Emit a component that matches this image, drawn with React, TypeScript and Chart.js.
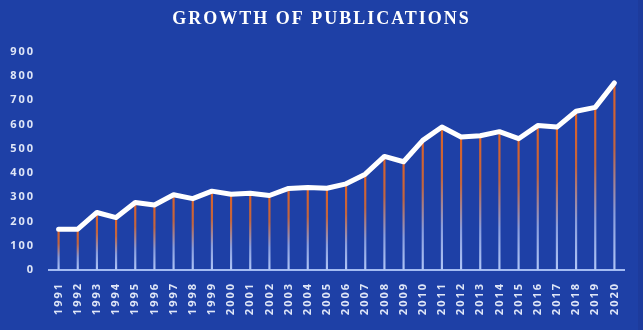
import React, { useEffect, useRef } from "react";
import { Chart, registerables } from "chart.js";

Chart.register(...registerables);

const years: string[] = [
  "1991", "1992", "1993", "1994", "1995", "1996", "1997", "1998", "1999", "2000",
  "2001", "2002", "2003", "2004", "2005", "2006", "2007", "2008", "2009", "2010",
  "2011", "2012", "2013", "2014", "2015", "2016", "2017", "2018", "2019", "2020",
];

const publications: number[] = [
  168, 168, 237, 216, 278, 268, 310, 294, 325, 312,
  316, 307, 336, 340, 337, 355, 395, 468, 446, 534,
  589, 548, 553, 570, 541, 595, 589, 654, 670, 771,
];

const yTicks: number[] = [0, 100, 200, 300, 400, 500, 600, 700, 800, 900];

const BG = "#1e40a6";
const TEXT = "#dfe6f7";

export default function App() {
  const ref = useRef<HTMLCanvasElement | null>(null);

  useEffect(() => {
    if (!ref.current) return;
    const spacing = {
      id: "spacing",
      beforeUpdate(chart: any) {
        chart.ctx.letterSpacing = "2px";
      },
      beforeDraw(chart: any) {
        chart.ctx.letterSpacing = "2px";
      },
    };
    const chart = new Chart(ref.current, {
      type: "bar",
      data: {
        labels: years,
        datasets: [
          {
            type: "line",
            data: publications,
            borderColor: "#ffffff",
            borderWidth: 5,
            pointRadius: 0,
            tension: 0,
            borderJoinStyle: "round",
            borderCapStyle: "round",
            order: 0,
          } as any,
          {
            type: "bar",
            data: publications,
            barThickness: 1.5,
            order: 1,
            backgroundColor: (ctx: any) => {
              const c = ctx.chart;
              if (!c.chartArea || ctx.raw == null) return "#d9632b";
              const ys = c.scales.y;
              const top = ys.getPixelForValue(ctx.raw);
              const bot = ys.getPixelForValue(0);
              const g = c.ctx.createLinearGradient(0, top, 0, bot);
              g.addColorStop(0, "#dc6228");
              g.addColorStop(0.35, "#c2653f");
              g.addColorStop(0.7, "#8a9edd");
              g.addColorStop(1, "#b0c6f7");
              return g;
            },
          } as any,
        ],
      },
      options: {
        animation: false,
        responsive: false,
        maintainAspectRatio: false,
        layout: { padding: 0 },
        plugins: {
          legend: { display: false },
          tooltip: { enabled: false },
          title: {
            display: true,
            text: "GROWTH OF PUBLICATIONS",
            color: "#ffffff",
            font: { family: "'Liberation Serif', serif", size: 18, weight: "bold" },
            padding: { top: 9, bottom: 21 },
          },
        },
        scales: {
          x: {
            offset: true,
            grid: { display: false, drawTicks: false },
            border: { display: true, color: "#a3bbf2", width: 2 },
            ticks: {
              color: TEXT,
              minRotation: 90,
              maxRotation: 90,
              autoSkip: false,
              padding: 12,
              font: { family: "'Open Sans', sans-serif", size: 11, weight: "bold" },
            },
            afterFit: (s: any) => {
              s.height = 60;
            },
          },
          y: {
            min: 0,
            max: 900,
            afterBuildTicks: (s: any) => {
              s.ticks = yTicks.map((v) => ({ value: v }));
            },
            grid: { display: false, drawTicks: false },
            border: { display: false },
            ticks: {
              color: TEXT,
              padding: 14,
              font: { family: "'Open Sans', sans-serif", size: 11, weight: "bold" },
            },
            afterFit: (s: any) => {
              s.width = 49;
            },
          },
          yRight: {
            position: "right",
            display: true,
            grid: { display: false, drawTicks: false },
            border: { display: false },
            ticks: { display: false },
            afterFit: (s: any) => {
              s.width = 19;
            },
          },
        },
      },
      plugins: [spacing],
    } as any);
    return () => chart.destroy();
  }, []);

  return (
    <div
      style={{
        position: "fixed",
        left: 0,
        top: 0,
        width: 643,
        height: 330,
        background: BG,
        boxShadow: "inset -5px 0 0 #1d3b9c",
      }}
    >
      <canvas ref={ref} width={643} height={330} style={{ display: "block" }} />
    </div>
  );
}
